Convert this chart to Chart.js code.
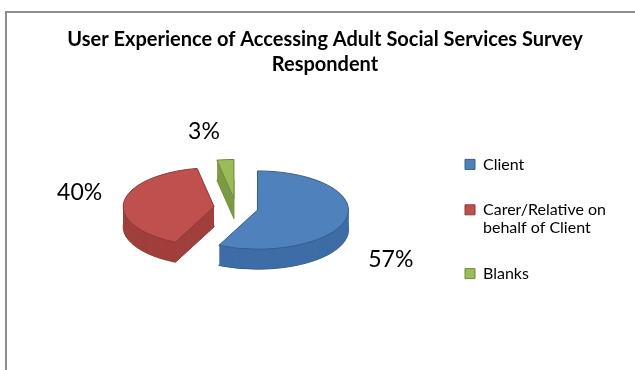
<!DOCTYPE html>
<html>
<head>
<meta charset="utf-8">
<script src="https://cdn.jsdelivr.net/npm/chart.js@4.4.1/dist/chart.umd.min.js"></script>
<style>
  html, body { margin: 0; padding: 0; background: #fff; }
  canvas { display: block; }
</style>
</head>
<body>
<canvas id="respChart" width="635" height="370"></canvas>
<script>
// DATA
const categories = ['Client', 'Carer/Relative on behalf of Client', 'Blanks'];
const shares = [57, 40, 3];
const legendText = [['Client'], ['Carer/Relative on', 'behalf of Client'], 'Blanks'];

// COLOURS (office 2007 palette)
const topColors = ['#4F81BD', '#C0504D', '#9BBB59'];
const edgeColors = ['#385D8A', '#8C3836', '#71893F'];
const sideColors = ['#3E6DA6', '#A03F3C', '#7E9A45'];

const FONT = 'Lato, "Open Sans", sans-serif';
const TILT = 0.43;    // vertical squash of the pie
const DEPTH = 20;     // thickness in px
const EXPLODE = 22;   // slice pull-out
const labelNudge = [[3, 14], [-2, -6], [-18, 2]];

// frame round the chart
const frame = {
    id: 'frame',
    beforeDraw(chart) {
        const ctx = chart.ctx;
        ctx.save();
        ctx.fillStyle = '#8e8e8e';
        ctx.fillRect(5, 11, chart.width, 2);
        ctx.fillRect(5, 11, 2, chart.height);
        ctx.restore();
    }
};

const pull = arc => {
    const m = (arc.startAngle + arc.endAngle) / 2;
    return [Math.cos(m) * EXPLODE, Math.sin(m) * EXPLODE];
};

// 3D exploded pie: squash, extrude, then draw the arcs on top
const pie3d = {
    id: 'pie3d',
    beforeDatasetDraw(chart, args) {
        const ctx = chart.ctx;
        const arcs = args.meta.data;
        const cx = arcs[0].x, cy = arcs[0].y;
        const squash = () => {
            ctx.translate(cx, cy);
            ctx.scale(1, TILT);
            ctx.translate(-cx, -cy);
        };

        for (let z = DEPTH; z > 0; z--) {
            arcs.forEach((arc, i) => {
                const [sx, sy] = pull(arc);
                const dz = z / TILT;
                ctx.save();
                squash();
                ctx.beginPath();
                ctx.moveTo(arc.x + sx, arc.y + sy + dz);
                ctx.arc(arc.x + sx, arc.y + sy + dz, arc.outerRadius, arc.startAngle, arc.endAngle);
                ctx.closePath();
                ctx.restore();
                ctx.fillStyle = sideColors[i];
                ctx.fill();
                if (z === DEPTH) {
                    ctx.strokeStyle = edgeColors[i];
                    ctx.lineWidth = 1;
                    ctx.stroke();
                }
            });
        }

        arcs.forEach((arc, i) => {
            const [sx, sy] = pull(arc);
            ctx.save();
            squash();
            ctx.translate(sx, sy);
            arc.draw(ctx);
            ctx.beginPath();
            ctx.moveTo(arc.x, arc.y);
            ctx.arc(arc.x, arc.y, arc.outerRadius, arc.startAngle, arc.endAngle);
            ctx.closePath();
            ctx.restore();
            ctx.strokeStyle = edgeColors[i];
            ctx.lineWidth = 1;
            ctx.stroke();
        });
        return false;
    },
    afterDatasetsDraw(chart) {
        const ctx = chart.ctx;
        const arcs = chart.getDatasetMeta(0).data;
        ctx.save();
        ctx.font = '23px ' + FONT;
        ctx.fillStyle = '#000';
        ctx.textAlign = 'center';
        ctx.textBaseline = 'middle';
        arcs.forEach((arc, i) => {
            const m = (arc.startAngle + arc.endAngle) / 2;
            const c = Math.cos(m), s = Math.sin(m);
            const txt = shares[i] + '%';
            const w = ctx.measureText(txt).width;
            const px = arc.x + c * (EXPLODE + arc.outerRadius);
            const py = arc.y + s * (EXPLODE + arc.outerRadius) * TILT + (s > 0 ? DEPTH : 0);
            const lx = px + c * (w / 2 + 20) + labelNudge[i][0];
            const ly = py + s * 30 + labelNudge[i][1];
            ctx.fillText(txt, lx, ly);
        });
        ctx.restore();
    }
};

new Chart(document.getElementById('respChart'), {
    type: 'pie',
    data: {
        labels: categories,
        datasets: [{
            data: shares,
            backgroundColor: topColors,
            borderColor: edgeColors,
            borderWidth: 0,
            clip: false
        }]
    },
    options: {
        responsive: false,
        animation: false,
        radius: 91,
        layout: { padding: { left: 34, right: 19, top: 0, bottom: 41 } },
        plugins: {
            tooltip: { enabled: false },
            title: {
                display: true,
                text: ['User Experience of Accessing Adult Social Services Survey', 'Respondent'],
                color: '#000',
                font: { family: FONT, size: 20, weight: 'bold', lineHeight: 1.25 },
                padding: { top: 27, bottom: 10 }
            },
            legend: {
                position: 'right',
                fullSize: false,
                title: { display: true, text: ' ', font: { size: 10, lineHeight: 1.2 }, padding: 5 },
                labels: {
                    color: '#000',
                    font: { family: FONT, size: 16, lineHeight: 1.15 },
                    boxWidth: 10,
                    boxHeight: 10,
                    padding: 27,
                    generateLabels: () => categories.map((c, i) => ({
                        text: legendText[i],
                        fillStyle: topColors[i],
                        strokeStyle: edgeColors[i],
                        lineWidth: 1,
                        hidden: false,
                        index: i,
                        fontColor: '#000'
                    }))
                }
            }
        }
    },
    plugins: [frame, pie3d]
});
</script>
</body>
</html>
